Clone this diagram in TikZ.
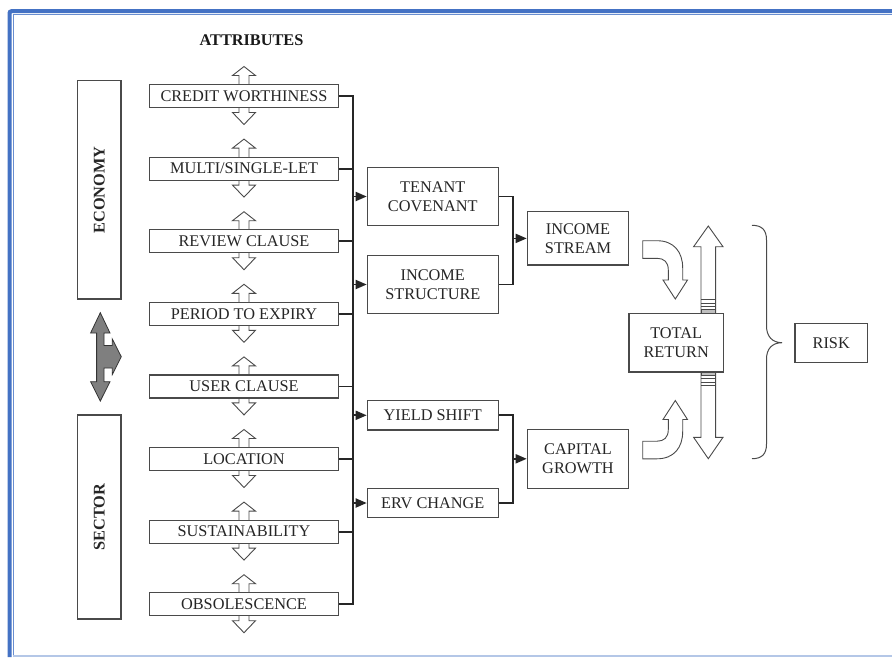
\documentclass[tikz,border=0pt]{standalone}
\usepackage{fontspec}
\setmainfont{Liberation Serif}
\usetikzlibrary{arrows.meta}
\definecolor{frameblue}{HTML}{4472C4}
\definecolor{lightblue}{HTML}{B4C7E7}
\definecolor{boxline}{HTML}{4A4A4A}
\definecolor{darkfill}{HTML}{7F7F7F}
\newcommand{\dfont}{\fontsize{16.3}{18.7}\selectfont}
\tikzset{
  box/.style={draw=boxline, line width=1.2pt, fill=white, inner sep=0pt, align=center,
    font=\dfont, text=black!85},
  attr/.style={box, minimum width=189.4pt, minimum height=23pt},
  mid/.style={box, minimum width=131pt},
  res/.style={box, minimum width=101.4pt},
  bus/.style={draw=black!85, line width=1.8pt},
  busarrow/.style={bus, -{Triangle[length=11pt,width=9pt]}},
  arrline/.style={draw=boxline, line width=0.9pt, fill=white, line join=miter},
  attarr/.pic={
    \draw[arrline] (-5,-11.5) -- (-5,-20.5) -- (-11.5,-20.5) -- (0,-29.5) -- (11.5,-20.5) -- (5,-20.5) -- (5,-11.5);
    \draw[arrline] (-5,11.5) -- (-5,16.5) -- (-11.5,16.5) -- (0,28.5) -- (11.5,16.5) -- (5,16.5) -- (5,11.5);
  }
}
\begin{document}
\begin{tikzpicture}[x=1pt,y=-1pt]
\useasboundingbox (0,0) rectangle (892,657);
\fill[white] (0,0) rectangle (892,657);
% frame
\draw[frameblue, line width=4pt, rounded corners=2pt] (9.5,657) -- (9.5,11.2) -- (892,11.2);
\draw[frameblue!80, line width=1.2pt] (13.4,657) -- (13.4,14.8) -- (892,14.8);
\draw[lightblue, line width=1.5pt] (13.4,656) -- (892,656);

% title
\node[font=\dfont\bfseries, text=black!90] (title) at (251.5,40) {ATTRIBUTES};

% side boxes
\node[box, rotate=90, minimum width=218.3pt, minimum height=43.3pt, font=\dfont\bfseries] (eco) at (99.4,189.9) {ECONOMY};
\node[box, rotate=90, minimum width=204pt, minimum height=43.3pt, font=\dfont\bfseries] (sec) at (99.4,517) {SECTOR};

% grey double arrow
\draw[draw=black!80, fill=darkfill, line width=0.8pt, line join=miter]
  (100.3,312.7) -- (110,333) -- (104,333) -- (104,345.5) -- (112.3,345.5) -- (112.3,339)
  -- (121.3,356.7) -- (112.3,374.5) -- (112.3,368) -- (104,368) -- (104,381.7) -- (110,381.7)
  -- (100.3,401) -- (90.6,381.7) -- (96.6,381.7) -- (96.6,333) -- (90.6,333) -- cycle;

% attribute arrows and boxes
\foreach \i/\y in {1/96,2/168.6,3/241.2,4/313.8,5/386.4,6/459,7/531.6,8/604.2}{
  \pic at (244,\y) {attarr};
}
\node[attr] (a1) at (244,96) {CREDIT WORTHINESS};
\node[attr] (a2) at (244,168.6) {MULTI/SINGLE-LET};
\node[attr] (a3) at (244,241.2) {REVIEW CLAUSE};
\node[attr] (a4) at (244,313.8) {PERIOD TO EXPIRY};
\node[attr] (a5) at (244,386.4) {USER CLAUSE};
\node[attr] (a6) at (244,459) {LOCATION};
\node[attr] (a7) at (244,531.6) {SUSTAINABILITY};
\node[attr] (a8) at (244,604.2) {OBSOLESCENCE};

% bus
\coordinate (bt) at (353,96);
\coordinate (bb) at (353,604.2);
\draw[bus, line join=miter] (a1.east) -- (bt) -- (bb) -- (a8.east);
\foreach \n in {a2,a3,a4,a5,a6,a7}{
  \draw[bus] (\n.east) -- (\n.east -| bt);
}

% middle boxes
\node[mid, minimum height=58.4pt] (t1) at (432.8,196.5) {TENANT\\COVENANT};
\node[mid, minimum height=57.6pt] (t2) at (432.8,284.5) {INCOME\\STRUCTURE};
\node[mid, minimum height=29.3pt] (t3) at (432.8,415.3) {YIELD SHIFT};
\node[mid, minimum height=29pt] (t4) at (432.8,503) {ERV CHANGE};
\foreach \n in {t1,t2,t3,t4}{
  \draw[busarrow] (\n.west -| bt) -- (\n.west);
}

% result boxes
\node[res, minimum height=53.3pt] (is) at (578,238.4) {INCOME\\STREAM};
\node[res, minimum height=59pt] (cg) at (578,458.8) {CAPITAL\\GROWTH};
\coordinate (m1) at (513,238.4);
\coordinate (m2) at (513,458.8);
\draw[bus, line join=miter] (t1.east) -- (t1.east -| m1) -- (t2.east -| m1) -- (t2.east);
\draw[bus, line join=miter] (t3.east) -- (t3.east -| m2) -- (t4.east -| m2) -- (t4.east);
\draw[busarrow] (m1) -- (is.west);
\draw[busarrow] (m2) -- (cg.west);

% total return and risk
\node[box, minimum width=94.3pt, minimum height=58.7pt] (tr) at (676.2,342.7) {TOTAL\\RETURN};
\node[box, minimum width=72.3pt, minimum height=39pt] (risk) at (831.2,342.8) {RISK};

% big vertical double arrow
\draw[arrline] (701,313.3) -- (701,246.7) -- (693.6,246.7) -- (708.3,226) -- (723,246.7) -- (715.6,246.7) -- (715.6,313.3);
\draw[arrline] (701,372) -- (701,437.3) -- (693.6,437.3) -- (708.3,458.7) -- (723,437.3) -- (715.6,437.3) -- (715.6,372);
\draw[boxline, line width=0.9pt, fill=black!25] (701,309.8) rectangle (715.6,313.3);
\draw[boxline, line width=0.9pt] (701,299.5) -- (715.6,299.5) (701,303) -- (715.6,303) (701,306.4) -- (715.6,306.4);
\draw[boxline, line width=0.9pt, fill=black!25] (701,372) rectangle (715.6,375.5);
\draw[boxline, line width=0.9pt] (701,378.9) -- (715.6,378.9) (701,382.3) -- (715.6,382.3) (701,385.8) -- (715.6,385.8);

% curved arrows
\draw[arrline] (642.7,240.7) -- (657,240.7) .. controls (674,240.7) and (682.7,252) .. (682.7,268)
  -- (682.7,280) -- (687.5,280) -- (675.3,299) -- (663,280) -- (668.3,280) -- (668.3,270)
  .. controls (668.3,262) and (664,258.3) .. (657,258.3) -- (642.7,258.3) -- cycle;
\draw[arrline] (642.7,458.8) -- (657,458.8) .. controls (674,458.8) and (682.7,447.5) .. (682.7,431.5)
  -- (682.7,419.5) -- (687.5,419.5) -- (675.3,400.5) -- (663,419.5) -- (668.3,419.5) -- (668.3,429.5)
  .. controls (668.3,437.5) and (664,441.2) .. (657,441.2) -- (642.7,441.2) -- cycle;

% brace
\draw[boxline, line width=1pt] (752,225.3) .. controls (762,225.3) and (766.5,230) .. (766.5,240)
  -- (766.5,326) .. controls (766.5,336) and (772,342.7) .. (782,342.7)
  .. controls (772,342.7) and (766.5,349) .. (766.5,359) -- (766.5,444)
  .. controls (766.5,454) and (762,458.7) .. (752,458.7);
\end{tikzpicture}
\end{document}
